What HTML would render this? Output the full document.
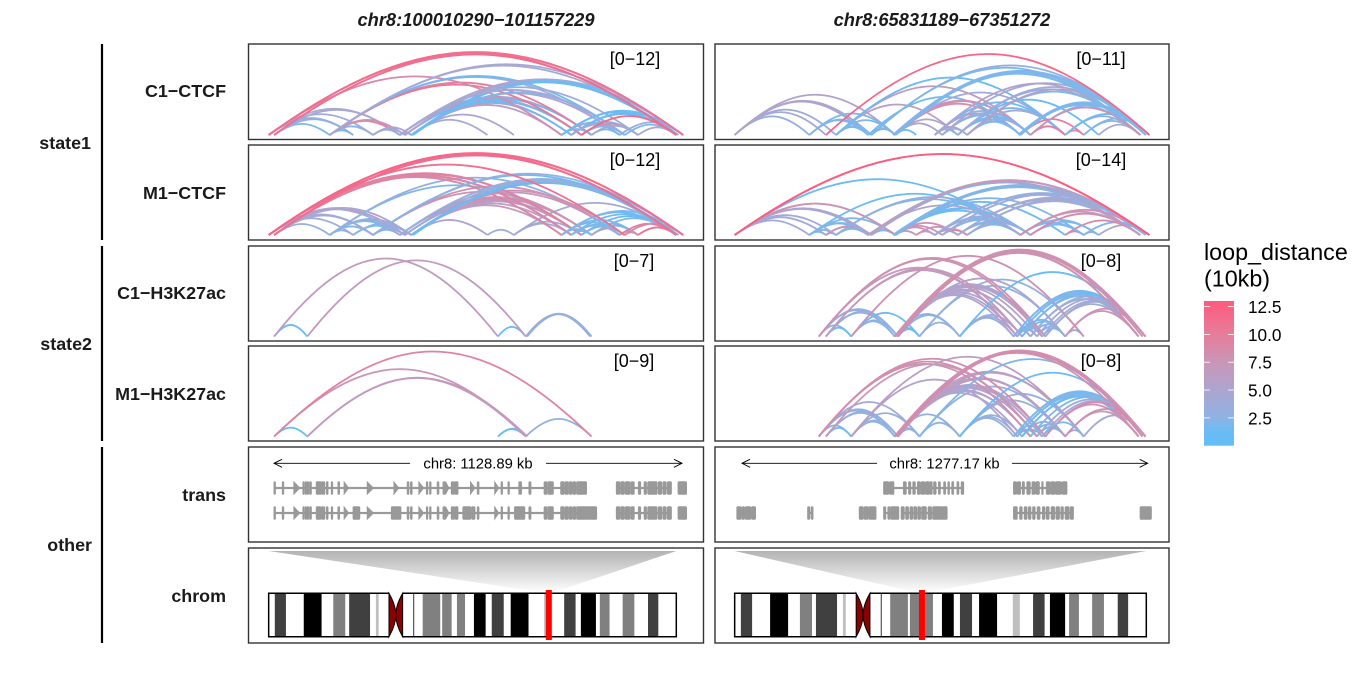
<!DOCTYPE html>
<html lang="en">
<head>
<meta charset="utf-8">
<title>Chromatin loops at two chr8 regions</title>
<style>
html,body{margin:0;padding:0;background:#fff;}
svg{display:block;font-family:"Liberation Sans",sans-serif;}
.row-label{font-weight:bold;font-size:17.9px;text-anchor:end;fill:#1a1a1a;}
.group-label{font-weight:bold;font-size:17.9px;text-anchor:end;fill:#1a1a1a;}
.col-title{font-weight:bold;font-style:italic;font-size:18.3px;text-anchor:middle;fill:#1a1a1a;}
.range-label{font-size:18px;text-anchor:middle;fill:#000;}
.legend-title{font-size:23.3px;fill:#000;}
.legend-label{font-size:17.2px;fill:#000;}
.scale-label{font-size:14.8px;text-anchor:middle;fill:#000;}
.panel{fill:none;stroke:#333;stroke-width:1.4;}
.bracket{stroke:#000;stroke-width:2.2;}
</style>
</head>
<body>
<svg id="chart" xmlns="http://www.w3.org/2000/svg" width="1359" height="673" viewBox="0 0 1359 673">
  <rect width="1359" height="673" fill="#fff"/>
  <text class="col-title" x="476" y="26">chr8:100010290−101157229</text>
  <text class="col-title" x="942" y="26">chr8:65831189−67351272</text>

  <line class="bracket" x1="102" x2="102" y1="44" y2="240"/>
  <line class="bracket" x1="102" x2="102" y1="246" y2="441"/>
  <line class="bracket" x1="102" x2="102" y1="447" y2="643"/>
  <text class="group-label" x="91" y="149">state1</text>
  <text class="group-label" x="92" y="350">state2</text>
  <text class="group-label" x="92" y="551">other</text>

  <text class="row-label" x="226" y="97">C1−CTCF</text>
  <text class="row-label" x="226" y="199">M1−CTCF</text>
  <text class="row-label" x="226" y="299">C1−H3K27ac</text>
  <text class="row-label" x="226" y="400">M1−H3K27ac</text>
  <text class="row-label" x="226" y="501">trans</text>
  <text class="row-label" x="226" y="602">chrom</text>

  <g id="plots"></g>

  <g>
    <text class="legend-title" x="1204" y="260">loop_distance</text>
    <text class="legend-title" x="1204" y="286.5">(10kb)</text>
    <g id="legend-bar"></g>
  </g>
</svg>
<script>
// ---------- anchors (kb from the left edge of each window) ----------
var leftCtcfAnchors=[0,15,169,234,289,363,377,395,606,679,811,838,866,894,972,986,1023,1129,1148,400,1135];
var rightCtcfAnchors=[0,230,281,312,411,421,495,559,616,639,687,716,880,911,1018,1075,1121,1249,1277,488,1266,874];
var leftH3Anchors=[15,107,635,712,894,716,890];
var rightH3Anchors=[259,281,359,493,503,569,693,859,870,885,911,931,947,957,1018,1075,1244,1265,498,1256];

// ---------- loops: [start anchor, end anchor, loop distance in 10kb] ----------
var leftC1CtcfLoops=[[1,2,2],[2,3,1.5],[2,4,2],[1,3,2.5],[0,3,3],[0,5,4.5],[1,5,4.5],[0,4,4],[2,5,9],[2,6,8],[4,5,3],[4,7,5],[5,7,4],[4,6,4],
[7,8,4.5],[7,9,5],[7,10,6],[7,11,7],[7,12,6],[6,12,7],[6,13,6.5],[5,13,6],[5,12,7],[5,11,8],[6,11,1.5],[7,12,1.5],[7,13,1.5],
[2,14,4],[2,13,10],[2,12,10.5],[0,10,8.5],[2,15,1.5],[2,17,4.5],[2,18,4.5],
[5,17,5],[6,17,4.5],[6,18,5],[7,14,5],[7,15,2],[19,17,1.5],[7,17,1.5],[7,18,2],[7,20,1.5],[5,15,4.5],[5,16,4],
[10,13,2],[10,14,2.5],[10,15,3],[10,17,1.5],[10,18,1.5],[11,17,1.5],[11,18,1.5],[11,16,2],[11,15,4],[12,16,8],[12,15,2],[13,14,2],[13,16,4],[15,17,2],[16,17,4.5],[14,18,3],
[12,17,12],[0,17,12],[0,18,11.5],[1,17,11.5],[1,18,11]];
var leftM1CtcfLoops=[[1,2,3],[2,3,2],[2,4,2],[2,5,2],[2,6,2],[2,7,2.5],[3,5,2],[3,6,2],[3,7,2],[4,5,2],[4,6,2],[4,7,2.5],[5,7,3],[1,4,4],[0,4,4],[0,3,4],[0,5,4.5],[0,6,5],[1,6,5],[1,7,5],
[2,12,2],[2,14,3],[7,8,5],[8,9,3],[9,11,4],[9,12,4],[9,17,4.5],
[7,10,7],[7,11,6],[7,12,6],[7,13,7],[6,12,7],[6,13,7],[6,14,7],[5,12,8],[5,13,8],[5,15,8],[4,13,8],[4,14,8],
[0,10,9],[0,11,9],[1,11,9],[0,12,9.5],[1,12,9.5],
[10,17,1.5],[10,18,2],[10,15,2],[10,16,2],[11,17,1.5],[11,15,2],[12,17,1.5],[12,15,2],[12,16,2],[13,17,2],[13,16,2],[10,13,2],[11,14,2],[11,13,2],[13,15,5],[14,17,10],[14,16,8],[15,18,9],[16,17,11],[15,16,8],
[19,17,1.5],[7,17,1.5],[7,18,2],[7,20,1.5],[6,17,3],[5,17,3],[5,18,3],[4,17,1.5],[4,18,2.5],
[0,15,11],[0,17,12.5],[0,18,12],[1,17,11.5],[1,18,11.5]];
var leftC1H3Loops=[[0,1,1],[2,3,1],[3,4,3],[3,6,3],[5,4,3],[0,2,7],[1,3,7]];
var leftM1H3Loops=[[0,1,1],[2,3,1],[2,5,1.5],[3,4,3],[0,3,7.5],[1,3,7],[1,5,7],[0,4,9.5]];
var rightC1CtcfLoops=[[0,1,3],[0,2,4],[0,3,4],[0,4,5],[0,5,5],[0,6,5.5],[1,4,2],[1,5,2],[1,6,2],[3,4,2],[3,5,2],[3,6,2],[4,6,3],[5,6,2],[6,7,1.5],
[3,10,6],[3,13,7],[4,12,1.5],[3,14,1.5],[6,9,5],[6,10,5],[6,12,8],[6,13,8],[19,13,8],[6,14,4],
[8,10,2],[8,11,5],[9,11,4],[8,12,8],[9,12,2],[9,13,3],[10,12,1.5],[8,13,2],[10,13,1.5],[10,14,2],[11,12,2],[11,14,4],[11,13,3],[8,14,1.5],[10,16,1.5],
[11,17,2],[10,17,3],[11,18,6],[10,18,4],[9,18,5],[8,17,5],
[19,17,2],[6,17,2],[6,18,3],[5,18,3],[6,20,2],[19,18,2],[19,20,2],[5,17,2],
[12,15,10],[13,14,10],[14,15,9],[14,17,3],[14,18,1.5],[15,17,2.5],[15,18,2],[16,17,4.5],[13,18,2],[12,18,2],[12,17,2],[21,18,2],[21,20,2],[12,20,2],[13,17,8],[2,18,12]];
var rightM1CtcfLoops=[[1,2,2],[1,3,2],[1,4,2],[1,5,2],[1,6,2],[2,3,1.5],[2,4,8],[2,5,8],[3,4,1.5],[3,5,2],[4,6,2],[5,6,2],[6,7,7],[6,8,7],[7,8,6],
[0,1,4],[0,2,4],[0,3,4],[0,4,4],[0,5,5],[0,6,7],[0,6,8],[1,12,1.5],[0,12,1.5],
[6,9,8],[6,10,8],[7,10,8],[8,10,4],[8,11,8],[9,11,9],[10,12,2],[10,13,2],[11,12,2],[11,13,3],[9,12,2],[9,13,3],[8,12,2],[8,13,3],
[6,12,1.5],[6,13,1.5],[19,13,1.5],[6,14,1.5],[6,15,2],[3,12,2],[3,13,3],[4,12,5],
[10,17,2],[10,18,5],[11,18,5],[11,17,4],[9,18,4],[8,17,3],[8,18,3],
[5,17,1.5],[5,18,5],[6,17,2.5],[6,18,3],[19,18,2.5],[6,20,2],[19,20,2],[4,18,7],[4,17,6],
[14,15,9],[15,16,5],[16,18,5],[15,18,2],[14,17,9],[13,16,2],[12,16,2],[12,15,2],[13,15,2],[13,17,9],[12,17,7],[12,18,8],
[0,18,13],[0,18,12.8]];
var rightC1H3Loops=[[0,2,2],[1,2,1.5],[0,3,3],[0,4,3],[1,3,2.5],[1,4,3],[2,3,2.5],[2,4,2.5],[2,5,1.5],[3,5,1.5],[4,5,1.5],[3,6,2.5],[4,6,2.5],[5,6,3],
[6,7,3],[6,8,3],[6,9,4],[7,10,2],[7,12,2],[8,11,2],[9,13,1.5],[10,14,2],[11,14,2],[12,14,1.5],[8,14,1.5],[9,14,1.5],[7,13,1.5],[8,13,2],[14,15,4],
[5,14,2.5],[5,15,3],[4,14,5],[3,7,5],[3,8,5],[3,9,5.5],[3,10,5.5],[4,10,5],[3,11,5.5],[3,12,6],[4,12,5.5],[3,13,5.5],[4,13,5],
[0,8,7],[1,8,7],[1,9,7],[0,12,8],[0,13,8],[2,15,8],
[6,17,1],[7,17,2],[8,17,1.5],[9,17,1.5],[7,16,2],[8,16,2],[9,16,2],[10,17,4],[10,16,3],[11,17,4.5],[12,17,4],[13,17,4],[13,16,4],[14,16,8],[14,17,7.5],
[3,16,8],[4,16,8],[3,17,8],[4,17,8.5],[18,17,8],[3,19,8],[18,19,8]];
var rightM1H3Loops=[[0,2,2],[1,2,2],[0,3,3],[0,4,3],[1,3,3],[1,4,3],[0,5,4],[2,3,2.5],[2,4,2.5],[2,5,3],[3,5,2.5],[4,5,2.5],[3,6,3],[5,6,2.5],
[6,7,3],[6,8,2.5],[6,9,3],[6,14,3],[6,15,3],[5,14,3],[7,10,2],[7,13,2],[8,11,2],[9,12,2],[10,14,2],[11,14,2],[12,14,1.5],[9,14,2],[14,15,5],
[3,9,5],[3,10,5.5],[4,10,5],[3,11,5.5],[3,12,6],[4,12,5.5],[3,13,6],[4,13,5.5],[3,14,6],[4,14,6.5],[3,15,7],[4,15,6],[2,8,5.5],
[0,10,8],[1,11,7.5],[0,11,8],[0,13,8.5],[2,15,6.5],
[5,17,2],[6,17,1.5],[7,17,2],[8,17,1.5],[9,17,2],[7,16,2],[8,16,2],[9,16,1.5],[10,17,2],[11,17,4],[12,17,4.5],[15,17,4],[14,16,7],[14,17,8],[13,16,8],[13,17,8.5],[12,15,2],
[3,16,8],[3,17,8],[4,17,8],[3,17,8.5],[18,17,8],[3,19,8],[18,19,8.5]];

// ---------- panel range labels ----------
var leftRangeLabels=["[0−12]","[0−12]","[0−7]","[0−9]"];
var rightRangeLabels=["[0−11]","[0−14]","[0−8]","[0−8]"];

// ---------- gene models: exons [start kb, end kb] ----------
var leftGeneSpans1=[[15,880],[963,1115],[1134,1157]];
var leftExons1=[[15,18.5],[38,41.5],[95,98],[101.5,104],[107,110],[113.5,118],[132,145],[147,155],[160,164],[173.6,177],[192,196],[384,388],[393,397],[437,440],[446,449],[467,471],[483,490],[506,514],[516,524],[578,582],[644,647],[663,666],[693,700],[721,726],[763,770],[773,788],[809,818],[821,830],[833,840],[843,850],[853,880],[963,972],[975,985],[988,1000],[1003,1012],[1024,1030],[1040,1046],[1050,1075],[1079,1088],[1092,1100],[1104,1115],[1134,1157]];
var leftArrows1=[[70,86],[209,221],[273,290],[347,360],[416,429],[490,499],[559,571],[626,637]];
var leftGeneSpans2=[[15,908],[963,1115],[1134,1157]];
var leftExons2=[[15,18.5],[38,41.5],[95,98],[101.5,104],[107,110],[113.5,118],[132,145],[147,155],[160,164],[173.6,177],[192,196],[234,252],[340,366],[384,388],[393,397],[437,440],[446,449],[467,471],[483,490],[506,514],[516,524],[538,560],[563,571],[578,582],[644,647],[663,666],[681,709],[721,726],[763,770],[773,788],[809,818],[821,830],[833,840],[843,850],[853,908],[963,972],[975,985],[988,1000],[1003,1012],[1024,1030],[1040,1046],[1050,1075],[1079,1088],[1092,1100],[1104,1115],[1134,1157]];
var leftArrows2=[[70,86],[209,221],[273,290],[416,429],[490,499],[626,637]];
var rightGeneSpans1=[[459,705],[859,1023]];
var rightExons1=[[459,474],[477,490],[520,528],[536,542],[549,556],[563,572],[575,585],[588,598],[600,608],[613,620],[628,633],[644,649],[657,661],[669,674],[685,690],[698,705],[859,868],[871,880],[886,892],[900,910],[916,925],[928,938],[946,949],[960,970],[973,985],[988,1005],[1008,1023]];
var rightGeneSpans2=[[7,64],[225,241],[384,435],[459,505],[513,654],[859,1043],[1249,1283]];
var rightExons2=[[7,20],[23,30],[33,50],[53,64],[225,231],[236,241],[384,396],[399,411],[414,435],[459,465],[472,478],[481,505],[513,522],[527,535],[540,548],[552,560],[564,572],[576,590],[596,606],[610,640],[640,654],[859,870],[878,885],[892,900],[905,912],[918,925],[932,940],[948,955],[960,968],[975,985],[990,1000],[1005,1012],[1018,1030],[1034,1043],[1249,1283]];
var leftScaleLabel="chr8: 1128.89 kb";
var rightScaleLabel="chr8: 1277.17 kb";

// ---------- cytobands of chr8 (Mb) ----------
var chromLength=146.36;
var bandStarts=[2.2,12.6,23.2,28.9,38.5,55.3,62.3,67.6,73.7,80.1,86.9,98.9,106.1,112.1,118.9,127.1,136.2];
var bandEnds=[6.2,19,27.5,36.4,39.5,61.6,65.7,70.5,77.9,84.4,93.3,101.4,110.2,117.5,122.4,131.3,139.9];
var bandStains=[75,100,50,75,25,50,50,50,100,75,100,25,75,100,50,50,75];
var centromereStart=43.2;
var centromereEnd=48.1;
var thinBandAt=52.1;
var leftHighlightMb=[100.01,101.16];
var rightHighlightMb=[65.83,67.35];

// ---------- legend ----------
var legendTicks=[2.5,5,7.5,10,12.5];
var legendTickLabels=["2.5","5.0","7.5","10.0","12.5"];
var colorDomainMax=13;
var colorStopValues=[0,1.5,2.5,5,7.5,10,13];
var colorStopHex=["#62bef7","#6dbbf3","#8fb2e3","#ada5d0","#c996b8","#e67d9b","#ff5a7e"];

var NS="http://www.w3.org/2000/svg";
function mk(tag,attrs,parent){
  var e=document.createElementNS(NS,tag);
  for(var k in attrs){e.setAttribute(k,attrs[k]);}
  parent.appendChild(e);
  return e;
}
function hexToRgb(h){return [parseInt(h.substr(1,2),16),parseInt(h.substr(3,2),16),parseInt(h.substr(5,2),16)];}
function colorFor(v){
  var n=colorStopValues.length;
  if(v<=colorStopValues[0])return colorStopHex[0];
  if(v>=colorStopValues[n-1])return colorStopHex[n-1];
  for(var i=0;i<n-1;i++){
    if(v<=colorStopValues[i+1]){
      var t=(v-colorStopValues[i])/(colorStopValues[i+1]-colorStopValues[i]);
      var a=hexToRgb(colorStopHex[i]),b=hexToRgb(colorStopHex[i+1]);
      return "rgb("+Math.round(a[0]+(b[0]-a[0])*t)+","+Math.round(a[1]+(b[1]-a[1])*t)+","+Math.round(a[2]+(b[2]-a[2])*t)+")";
    }
  }
}

var plots=document.getElementById("plots");
var columns=[
 {id:"left",px:248.5,pw:455,x0:268.67,k:0.3611,chromX0:268.67,chromX1:676.3,
  loops:[leftC1CtcfLoops,leftM1CtcfLoops,leftC1H3Loops,leftM1H3Loops],
  anchors:[leftCtcfAnchors,leftCtcfAnchors,leftH3Anchors,leftH3Anchors],
  labels:leftRangeLabels,labelX:[635,635,634,634],peaks:[83,82,78,85],
  spans:[leftGeneSpans1,leftGeneSpans2],exons:[leftExons1,leftExons2],arrows:[leftArrows1,leftArrows2],
  scaleX:[274,682],gap:[410,546],scaleLabel:leftScaleLabel,highlight:leftHighlightMb},
 {id:"right",px:715,pw:454,x0:734.67,k:0.3247,chromX0:734.67,chromX1:1146.3,
  loops:[rightC1CtcfLoops,rightM1CtcfLoops,rightC1H3Loops,rightM1H3Loops],
  anchors:[rightCtcfAnchors,rightCtcfAnchors,rightH3Anchors,rightH3Anchors],
  labels:rightRangeLabels,labelX:[1101,1101,1101,1101],peaks:[81,81,87,86],
  spans:[rightGeneSpans1,rightGeneSpans2],exons:[rightExons1,rightExons2],arrows:[[],[]],
  scaleX:[742,1147.7],gap:[877,1012],scaleLabel:rightScaleLabel,highlight:rightHighlightMb}
];
var arcTops=[44,145,246,346];
var arcBases=[135,235,336.5,436.5];
var arcHeights=[95.5,95,95,95];
var trackNames=["c1-ctcf","m1-ctcf","c1-h3k27ac","m1-h3k27ac"];

columns.forEach(function(col){
  var xScale=function(kb){return col.x0+kb*col.k;};
  // arc panels
  for(var r=0;r<4;r++){
    var g=mk("g",{},plots);
    
    
    var box=mk("rect",{"class":"panel",x:col.px,y:arcTops[r],width:col.pw,height:arcHeights[r]},g);
    
    
    var anchors=col.anchors[r],loops=col.loops[r],maxSpan=0;
    loops.forEach(function(l){maxSpan=Math.max(maxSpan,Math.abs(anchors[l[1]]-anchors[l[0]]));});
    var hPerKb=col.peaks[r]/maxSpan,base=arcBases[r];
    loops.forEach(function(l){
      var a=xScale(Math.min(anchors[l[0]],anchors[l[1]])),b=xScale(Math.max(anchors[l[0]],anchors[l[1]]));
      var s=b-a,h=Math.abs(anchors[l[1]]-anchors[l[0]])*hPerKb,cy=base-h*4/3,ctrl=0.37*s;
      var arc=mk("path",{d:"M"+a+" "+base+"C"+(a+ctrl)+" "+cy+" "+(b-ctrl)+" "+cy+" "+b+" "+base,fill:"none",stroke:colorFor(l[2]),"stroke-width":1.8},g);
      
      
    });
    var lab=mk("text",{"class":"range-label",x:col.labelX[r],y:arcTops[r]+21},g);
    lab.textContent=col.labels[r];
    
    
  }
  // transcript track
  var tg=mk("g",{},plots);
  
  
  var tb=mk("rect",{"class":"panel",x:col.px,y:447,width:col.pw,height:95},tg);
  
  
  var sy=463.3;
  var s1=mk("path",{d:"M"+(col.scaleX[0]+8)+" "+(sy-4)+"L"+col.scaleX[0]+" "+sy+"L"+(col.scaleX[0]+8)+" "+(sy+4)+"M"+col.scaleX[0]+" "+sy+"H"+col.gap[0],fill:"none",stroke:"#000","stroke-width":0.9},tg);
  
  
  var s2=mk("path",{d:"M"+(col.scaleX[1]-8)+" "+(sy-4)+"L"+col.scaleX[1]+" "+sy+"L"+(col.scaleX[1]-8)+" "+(sy+4)+"M"+col.scaleX[1]+" "+sy+"H"+col.gap[1],fill:"none",stroke:"#000","stroke-width":0.9},tg);
  
  
  var st=mk("text",{"class":"scale-label",x:(col.gap[0]+col.gap[1])/2,y:sy+5},tg);
  st.textContent=col.scaleLabel;
  
  
  [488,513].forEach(function(cy,i){
    col.spans[i].forEach(function(sp){
      var ln=mk("rect",{x:xScale(sp[0]),y:cy-1.1,width:(sp[1]-sp[0])*col.k,height:2.2,fill:"#999"},tg);
      
      
    });
    col.exons[i].forEach(function(ex){
      var er=mk("rect",{x:xScale(ex[0]),y:cy-6.2,width:Math.max((ex[1]-ex[0])*col.k,1.2),height:12.4,rx:1,fill:"#999",stroke:"#999","stroke-width":1.1},tg);
      
      
    });
    col.arrows[i].forEach(function(ex){
      var a=xScale(ex[0]),b=xScale(ex[1]);
      var tri=mk("path",{d:"M"+a+" "+(cy-6)+"L"+b+" "+cy+"L"+a+" "+(cy+6)+"Z",fill:"#999",stroke:"#999","stroke-width":1},tg);
      
      
    });
  });
  // chromosome track
  var cg=mk("g",{},plots);
  
  
  var cb=mk("rect",{"class":"panel",x:col.px,y:548,width:col.pw,height:95},cg);
  
  
  var cs=function(mb){return col.chromX0+mb/chromLength*(col.chromX1-col.chromX0);};
  var top=593.3,bot=636.7,hl0=cs(col.highlight[0])-0.0,hl1=cs(col.highlight[1]);
  var hc=(hl0+hl1)/2,hlA=hc-3,hlB=hc+3;
  var gid="zoom-"+col.id;
  var defs=mk("defs",{},cg);
  var lg=mk("linearGradient",{id:gid,x1:0,y1:0,x2:0,y2:1},defs);
  mk("stop",{offset:"0","stop-color":"#b3b3b3"},lg);
  mk("stop",{offset:"1","stop-color":"#ffffff"},lg);
  var zp=mk("polygon",{points:col.chromX0+",551 "+col.chromX1+",551 "+hlB+",593 "+hlA+",593",fill:"url(#"+gid+")"},cg);
  
  
  bandStarts.forEach(function(st,i){
    var v=Math.round(255-(bandStains[i]/100)*255);
    var fill=bandStains[i]===75?"#404040":(bandStains[i]===25?"#bfbfbf":"rgb("+v+","+v+","+v+")");
    var br=mk("rect",{x:cs(st),y:top,width:cs(bandEnds[i])-cs(st),height:bot-top,fill:fill},cg);
    
    
  });
  var tl=mk("line",{x1:cs(thinBandAt),x2:cs(thinBandAt),y1:top,y2:bot,stroke:"#000","stroke-width":0.8},cg);
  
  
  var pE=cs(centromereStart),qS=cs(centromereEnd),mid=(pE+qS)/2,ym=(top+bot)/2;
  var out=mk("path",{d:"M"+pE+" "+top+"H"+col.chromX0+"V"+bot+"H"+pE+"M"+qS+" "+top+"H"+col.chromX1+"V"+bot+"H"+qS,fill:"none",stroke:"#000","stroke-width":1.5},cg);
  
  
  var cen=mk("path",{d:"M"+pE+" "+top+"Q"+mid+" "+(top+12)+" "+mid+" "+ym+"Q"+mid+" "+(bot-12)+" "+pE+" "+bot+"Z M"+qS+" "+top+"Q"+mid+" "+(top+12)+" "+mid+" "+ym+"Q"+mid+" "+(bot-12)+" "+qS+" "+bot+"Z",fill:"#8b0000",stroke:"#000","stroke-width":1},cg);
  
  
  var hr=mk("rect",{x:hlA,y:590,width:hlB-hlA,height:50,fill:"#ff0000"},cg);
  
  
});

// legend colorbar
var legendG=document.getElementById("legend-bar");
var lb={x:1204,w:30,top:301,bottom:445.7};
var legY=function(v){return lb.bottom-(v/colorDomainMax)*(lb.bottom-lb.top);};
var dfs=mk("defs",{},legendG);
var grad=mk("linearGradient",{id:"legend-grad",x1:0,y1:1,x2:0,y2:0},dfs);
colorStopValues.forEach(function(v,i){
  mk("stop",{offset:v/colorDomainMax,"stop-color":colorStopHex[i]},grad);
});
var barRect=mk("rect",{x:lb.x,y:lb.top,width:lb.w,height:lb.bottom-lb.top,fill:"url(#legend-grad)"},legendG);


legendTicks.forEach(function(v,i){
  var y=legY(v);
  var t1=mk("line",{x1:lb.x,x2:lb.x+6,y1:y,y2:y,stroke:"#fff","stroke-width":0.8},legendG);
  
  
  var t2=mk("line",{x1:lb.x+lb.w-6,x2:lb.x+lb.w,y1:y,y2:y,stroke:"#fff","stroke-width":0.8},legendG);
  
  
  var tx=mk("text",{"class":"legend-label",x:1248,y:y+6.5},legendG);
  tx.textContent=legendTickLabels[i];
  
  
});
</script>
</body>
</html>
